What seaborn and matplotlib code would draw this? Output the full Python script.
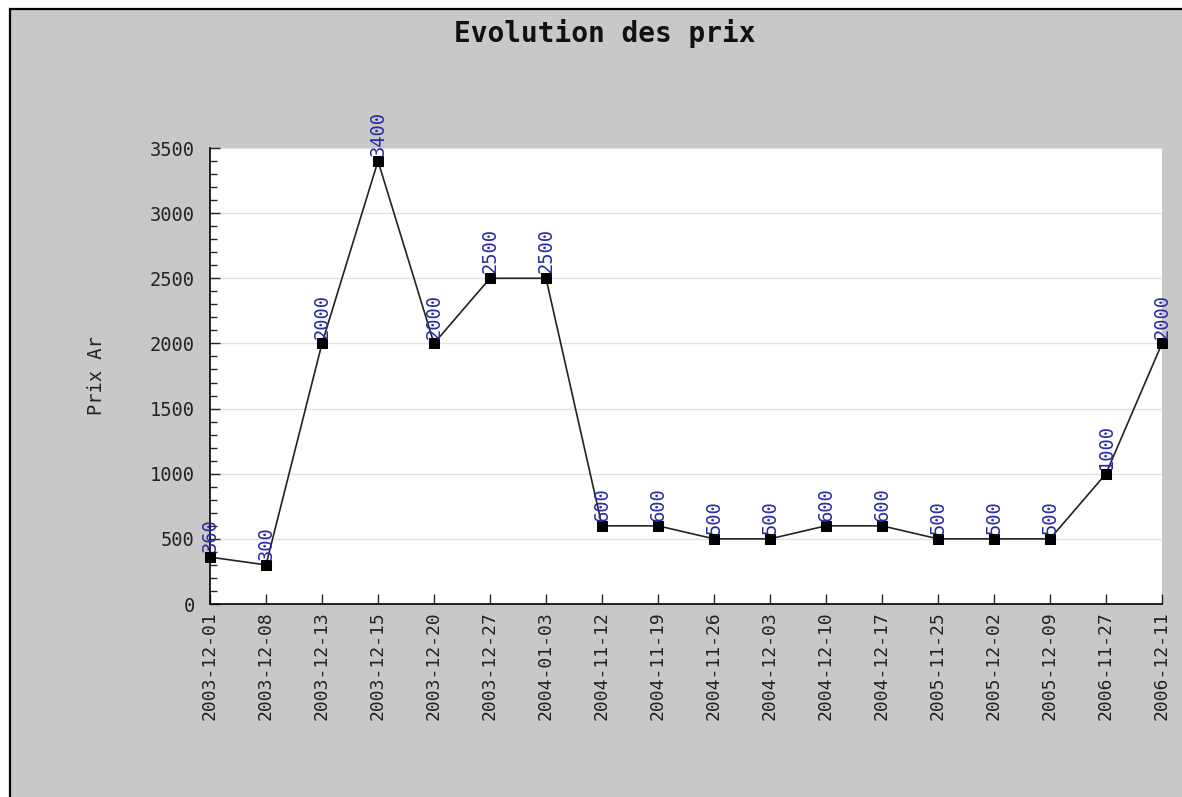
import numpy as np
import pandas as pd
import matplotlib
matplotlib.use('Agg')
import matplotlib.pyplot as plt
from matplotlib.patches import Rectangle
from matplotlib.ticker import MultipleLocator
import seaborn as sns

# --- Data ---
dates = ['2003-12-01', '2003-12-08', '2003-12-13', '2003-12-15', '2003-12-20',
         '2003-12-27', '2004-01-03', '2004-11-12', '2004-11-19', '2004-11-26',
         '2004-12-03', '2004-12-10', '2004-12-17', '2005-11-25', '2005-12-02',
         '2005-12-09', '2006-11-27', '2006-12-11']
prix = [360, 300, 2000, 3400, 2000, 2500, 2500, 600, 600, 500,
        500, 600, 600, 500, 500, 500, 1000, 2000]

TITLE = 'Evolution des prix'
Y_LABEL = 'Prix Ar'

df = pd.DataFrame({'idx': np.arange(len(dates)), 'date': dates, 'prix': prix})

# --- Style ---
sns.set_theme(style='white')
plt.rcParams['font.family'] = ['DejaVu Sans Mono']
BG = '#c8c8c8'
LABEL_BLUE = '#2a2aa8'

fig = plt.figure(figsize=(11.82, 7.97), dpi=100, facecolor='white')
# grey panel with black frame (slightly offset as in the source image)
fig.patches.append(Rectangle((10 / 1182, -0.05), 1.2, 1.05 - 8.5 / 797,
                             transform=fig.transFigure, facecolor=BG,
                             edgecolor='black', linewidth=1.6, zorder=-1))

ax = fig.add_axes([210 / 1182, 1 - 604 / 797, 952 / 1182, 456 / 797])
ax.set_facecolor('white')

sns.lineplot(data=df, x='idx', y='prix', ax=ax, color='#222222', linewidth=1.2,
             marker='s', markersize=6.5, markerfacecolor='black',
             markeredgecolor='black', clip_on=False, zorder=5)

# value labels above each point
for i, v in enumerate(prix):
    ax.annotate(str(v), (i, v), xytext=(0, 3.5), textcoords='offset points',
                rotation=90, ha='center', va='bottom', color=LABEL_BLUE,
                fontsize=13.5, annotation_clip=False, zorder=6)

ax.set_xlim(0, len(dates) - 1)
ax.set_ylim(0, 3500)
ax.set_xticks(np.arange(len(dates)))
ax.set_xticklabels(dates, rotation=90, fontsize=13, color='#222222')
ax.yaxis.set_major_locator(MultipleLocator(500))
ax.yaxis.set_minor_locator(MultipleLocator(100))
ax.tick_params(axis='y', which='major', direction='in', length=7, width=1,
               pad=11, labelsize=13.5, labelcolor='#222222', left=True)
ax.tick_params(axis='y', which='minor', direction='in', length=5, width=1,
               left=True)
ax.tick_params(axis='x', which='major', direction='in', length=7, width=1,
               pad=5, bottom=True)
ax.grid(axis='y', which='major', color='#e2e2e2', linewidth=1)
ax.set_axisbelow(True)

for side in ['top', 'right']:
    ax.spines[side].set_visible(False)
for side in ['left', 'bottom']:
    ax.spines[side].set_color('black')
    ax.spines[side].set_linewidth(1.2)

ax.set_xlabel('')
ax.set_ylabel(Y_LABEL, fontsize=13.5, color='#222222')
ax.yaxis.set_label_coords(-104 / 952, 0.5)

fig.text(605 / 1182, 1 - 33 / 797, TITLE, ha='center', va='center',
         fontsize=20, fontweight='semibold', color='#111111')

fig.savefig('out.png', dpi=100, facecolor=fig.get_facecolor())
